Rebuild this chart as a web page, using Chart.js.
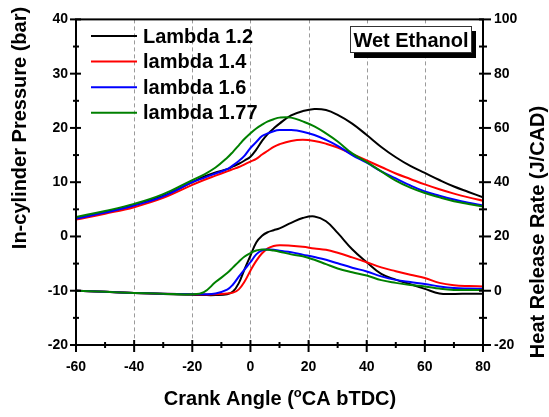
<!DOCTYPE html>
<html><head><meta charset="utf-8">
<script src="https://cdn.jsdelivr.net/npm/chart.js@4/dist/chart.umd.min.js"></script>
<style>html,body{margin:0;padding:0;background:#fff;}#wrap{width:549px;height:417px;}</style>
</head><body><div id="wrap"><canvas id="c" width="549" height="417"></canvas></div>
<script>
const angles = [-60,-50,-40,-30,-20,-16,-12,-8,-6,-4,-2,0,2,4,6,8,10,14,18,22,26,30,35,40,45,50,55,60,65,70,75,80];
const seriesLabels = ['Lambda 1.2','lambda 1.4','lambda 1.6','lambda 1.77'];
const seriesColors = ['#000000','#ff0000','#0000ff','#008000'];
// In-cylinder pressure (bar), left axis
const pressure12  = [3.3,4.5,5.8,7.5,10.0,11.0,11.8,12.4,12.9,13.4,14.0,14.7,16.0,17.6,18.9,19.9,20.8,22.3,23.1,23.5,23.3,22.4,20.8,18.7,16.5,14.6,13.0,11.7,10.4,9.2,8.2,7.2];
const pressure14  = [3.1,4.2,5.4,7.1,9.5,10.4,11.2,12.0,12.4,12.8,13.3,13.8,14.3,15.1,15.8,16.5,17.0,17.6,17.8,17.6,17.1,16.4,15.2,14.0,12.8,11.6,10.6,9.6,8.7,7.9,7.2,6.6];
const pressure16  = [3.3,4.4,5.7,7.4,10.0,10.8,11.6,12.4,13.1,13.9,14.9,16.3,17.4,18.5,19.0,19.4,19.6,19.6,19.3,18.7,17.8,16.7,15.0,13.6,12.0,10.7,9.4,8.3,7.5,6.8,6.2,5.7];
const pressure177 = [3.6,4.7,6.0,7.8,10.4,11.4,12.7,14.5,15.6,16.8,18.0,19.0,19.9,20.6,21.2,21.6,21.9,21.9,21.2,20.3,19.0,17.5,15.3,13.7,12.0,10.3,9.0,8.0,7.2,6.5,6.0,5.5];
// Heat release rate (J/CAD), right axis
const hrr12  = [0.0,-0.4,-0.8,-1.2,-1.5,-1.6,-1.6,-1.3,-0.3,2.8,8.0,12.9,17.8,20.3,21.6,22.3,23.0,25.0,26.8,27.4,25.6,21.3,15.3,10.5,6.2,4.1,2.4,0.7,-1.0,-1.2,-1.1,-1.1];
const hrr14  = [0.0,-0.4,-0.8,-1.1,-1.3,-1.4,-1.3,-1.0,-0.7,0.5,3.4,7.4,11.0,13.8,15.6,16.5,16.8,16.6,16.2,15.6,15.1,14.0,12.3,10.5,8.6,7.2,5.9,4.7,2.9,2.0,1.7,1.6];
const hrr16  = [0.0,-0.4,-0.8,-1.1,-1.3,-1.3,-1.0,0.4,2.3,5.2,7.9,10.5,13.4,14.9,15.2,15.1,14.7,14.2,13.3,12.4,11.4,10.1,8.5,7.1,5.3,4.0,3.2,2.5,1.6,1.0,0.8,0.7];
const hrr177 = [0.0,-0.4,-0.8,-1.1,-1.3,-0.5,3.2,6.5,8.6,10.7,12.6,13.9,14.8,15.2,15.1,14.8,14.4,13.4,12.7,11.4,9.8,8.2,6.8,5.6,3.9,2.9,2.1,1.6,0.8,0.3,0.3,0.3];
// Ticks
const xMajorTicks = [-60,-40,-20,0,20,40,60,80];
const xMinorTicks = [-50,-30,-10,10,30,50,70];
const xGridTicks = [-40,-20,0,20,40,60];
const yMajorTicks = [-20,-10,0,10,20,30,40];
const yMinorTicks = [-15,-5,5,15,25,35];
const y1MajorTicks = [-20,0,20,40,60,80,100];
const y1MinorTicks = [-10,10,30,50,70,90];
const boxText = 'Wet Ethanol';
const xTitle = ['Crank Angle (', 'o', 'CA bTDC)'];
const yTitle = 'In-cylinder Pressure (bar)';
const y1Title = 'Heat Release Rate (J/CAD)';

const FONT = '"Liberation Sans", Arial, Helvetica, sans-serif';
const pressures = [pressure12, pressure14, pressure16, pressure177];
const hrrs = [hrr12, hrr14, hrr16, hrr177];
const toPts = arr => angles.map((a, i) => ({x: a, y: arr[i]}));

const datasets = [];
pressures.forEach((p, i) => datasets.push({
  label: seriesLabels[i], data: toPts(p), yAxisID: 'y', borderColor: seriesColors[i],
  borderWidth: 2, pointRadius: 0, tension: 0.4, fill: false, order: 10 - i
}));
hrrs.forEach((h, i) => datasets.push({
  label: seriesLabels[i] + ' HRR', data: toPts(h), yAxisID: 'y1', borderColor: seriesColors[i],
  borderWidth: 2, pointRadius: 0, tension: 0.4, fill: false, order: 10 - i
}));

const deco = {
  id: 'deco',
  beforeDatasetsDraw(chart) {
    const {ctx, chartArea: a, scales: {x}} = chart;
    ctx.save();
    ctx.strokeStyle = '#9a9a9a'; ctx.lineWidth = 1; ctx.setLineDash([4, 3]);
    xGridTicks.forEach(v => {
      const px = Math.round(x.getPixelForValue(v)) + 0.5;
      ctx.beginPath(); ctx.moveTo(px, a.top); ctx.lineTo(px, a.bottom); ctx.stroke();
    });
    ctx.restore();
  },
  afterDatasetsDraw(chart) {
    const {ctx, chartArea: a, scales: {x, y, y1}} = chart;
    ctx.save();
    ctx.strokeStyle = '#000'; ctx.lineWidth = 2; ctx.setLineDash([]);
    ctx.strokeRect(a.left, a.top, a.right - a.left, a.bottom - a.top);
    const line = (x1, y1_, x2, y2) => { ctx.beginPath(); ctx.moveTo(x1, y1_); ctx.lineTo(x2, y2); ctx.stroke(); };
    xMajorTicks.forEach(v => { const p = x.getPixelForValue(v); line(p, a.bottom - 5, p, a.bottom + 7); });
    xMinorTicks.forEach(v => { const p = x.getPixelForValue(v); line(p, a.bottom - 3, p, a.bottom + 3); });
    yMajorTicks.forEach(v => { const p = y.getPixelForValue(v); line(a.left - 6, p, a.left + 5, p); });
    yMinorTicks.forEach(v => { const p = y.getPixelForValue(v); line(a.left - 3, p, a.left + 3, p); });
    y1MajorTicks.forEach(v => { const p = y1.getPixelForValue(v); line(a.right - 4, p, a.right + 8, p); });
    y1MinorTicks.forEach(v => { const p = y1.getPixelForValue(v); line(a.right - 4, p, a.right + 4, p); });
    // legend
    ctx.font = 'bold 20px ' + FONT; ctx.textBaseline = 'middle'; ctx.textAlign = 'left'; ctx.fillStyle = '#000';
    seriesLabels.forEach((lab, i) => {
      const yy = 36 + i * 25.6;
      ctx.strokeStyle = seriesColors[i]; ctx.lineWidth = 2;
      line(a.left + 15, yy, a.left + 61, yy);
      ctx.fillText(lab, a.left + 67, yy + 1);
    });
    // Wet Ethanol box
    ctx.fillStyle = '#000'; ctx.fillRect(354, 31, 122, 27);
    ctx.fillStyle = '#fff'; ctx.fillRect(350, 26, 122, 27);
    ctx.strokeStyle = '#333'; ctx.lineWidth = 1; ctx.strokeRect(350.5, 26.5, 121, 26);
    ctx.fillStyle = '#000'; ctx.textAlign = 'center'; ctx.font = 'bold 20px ' + FONT;
    ctx.fillText(boxText, 411, 41);
    // axis titles
    ctx.font = 'bold 20px ' + FONT; ctx.textBaseline = 'middle';
    ctx.save(); ctx.translate(20, 128); ctx.rotate(-Math.PI / 2); ctx.fillText(yTitle, 0, 0); ctx.restore();
    ctx.save(); ctx.translate(538, 232); ctx.rotate(-Math.PI / 2); ctx.fillText(y1Title, 0, 0); ctx.restore();
    ctx.textBaseline = 'alphabetic'; ctx.textAlign = 'left';
    const f1 = 'bold 20px ' + FONT, f2 = 'bold 13px ' + FONT;
    ctx.font = f1; const w1 = ctx.measureText(xTitle[0]).width, w3 = ctx.measureText(xTitle[2]).width;
    ctx.font = f2; const w2 = ctx.measureText(xTitle[1]).width;
    let sx = 280 - (w1 + w2 + w3) / 2;
    ctx.font = f1; ctx.fillText(xTitle[0], sx, 405); sx += w1;
    ctx.font = f2; ctx.fillText(xTitle[1], sx, 397); sx += w2;
    ctx.font = f1; ctx.fillText(xTitle[2], sx, 405);
    ctx.restore();
  }
};

const tickFont = {family: FONT, size: 14, weight: 'bold'};
new Chart(document.getElementById('c'), {
  type: 'line',
  data: {datasets},
  options: {
    responsive: false, animation: false, devicePixelRatio: 1,
    layout: {padding: {top: 17, left: 0, right: 0, bottom: 0}},
    plugins: {legend: {display: false}, tooltip: {enabled: false}},
    scales: {
      x: {type: 'linear', min: -60, max: 80,
        afterBuildTicks: s => { s.ticks = xMajorTicks.map(v => ({value: v})); },
        afterFit: s => { s.height = 72; },
        grid: {display: false, drawTicks: false}, border: {display: false},
        ticks: {font: tickFont, color: '#000', padding: 14, maxRotation: 0, autoSkip: false}},
      y: {type: 'linear', position: 'left', min: -20, max: 40,
        afterBuildTicks: s => { s.ticks = yMajorTicks.map(v => ({value: v})); },
        afterFit: s => { s.width = 76; },
        grid: {display: false, drawTicks: false}, border: {display: false},
        ticks: {font: tickFont, color: '#000', padding: 8}},
      y1: {type: 'linear', position: 'right', min: -20, max: 100,
        afterBuildTicks: s => { s.ticks = y1MajorTicks.map(v => ({value: v})); },
        afterFit: s => { s.width = 66; },
        grid: {display: false, drawTicks: false}, border: {display: false},
        ticks: {font: tickFont, color: '#000', padding: 11}}
    }
  },
  plugins: [deco]
});
</script></body></html>
